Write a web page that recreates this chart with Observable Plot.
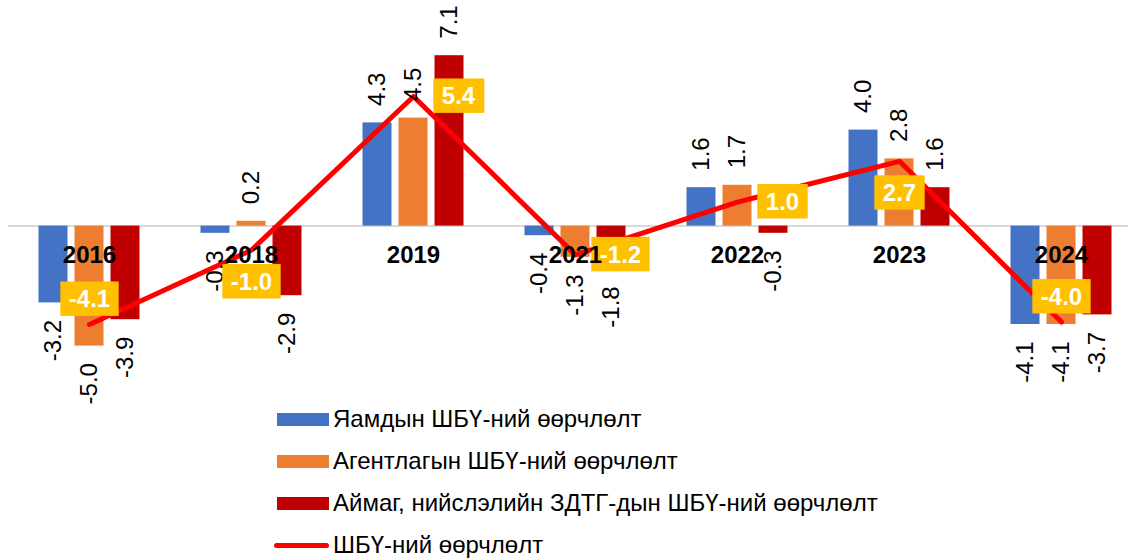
<!DOCTYPE html>
<html><head><meta charset="utf-8">
<script src="https://cdn.jsdelivr.net/npm/d3@7"></script>
<script src="https://cdn.jsdelivr.net/npm/@observablehq/plot@0.6"></script>
<style>
body{margin:0;background:#fff;font-family:"Liberation Sans",Arial,sans-serif;}
#chart svg{display:block;overflow:visible}
.legend{padding-left:277px;padding-top:2px}
.row{display:flex;align-items:center;height:42px;font-size:24px;color:#000;white-space:nowrap}
.sw{width:52px;height:13px;margin-right:4px;flex:none}
.ln{width:55px;height:5px;border-radius:3px;margin-left:-3px;margin-right:4px;flex:none}
</style></head><body><div id="chart"></div><div class="legend" id="legend"></div>
<script>
const years = ["2016","2018","2019","2021","2022","2023","2024"];
const ministry = [-3.2, -0.3, 4.3, -0.4, 1.6, 4.0, -4.1];
const agency = [-5.0, 0.2, 4.5, -1.3, 1.7, 2.8, -4.1];
const aimag = [-3.9, -2.9, 7.1, -1.8, -0.3, 1.6, -3.7];
const total = [-4.1, -1.0, 5.4, -1.2, 1.0, 2.7, -4.0];
const seriesNames = ["Яамдын ШБҮ-ний өөрчлөлт", "Агентлагын ШБҮ-ний өөрчлөлт", "Аймаг, нийслэлийн ЗДТГ-дын ШБҮ-ний өөрчлөлт"];
const lineName = "ШБҮ-ний өөрчлөлт";
const totalLabelPos = ["above","below","right","right","right","below","above"];

const seriesColors = ["#4472C4", "#ED7D31", "#C00000"];
const lineColor = "#FF0000";
const boxColor = "#FFC000";

const W = 1128, H = 396;
const xRange = [8, 1142];
const bw = (xRange[1] - xRange[0]) / years.length;
const offsets = [-36, 0, 36];
const barW = 29;
const fmt = v => v.toFixed(1);
const font = "Liberation Sans, Arial, sans-serif";
const fs = 24;

const seriesValues = [ministry, agency, aimag];
const rows = [];
seriesValues.forEach((vals, k) => vals.forEach((v, i) => rows.push({year: years[i], series: k, value: v})));
const totals = years.map((y, i) => ({year: y, value: total[i], pos: totalLabelPos[i]}));

const marks = [Plot.ruleY([0], {stroke: "#D9D9D9", strokeWidth: 2})];
seriesValues.forEach((vals, k) => {
  const data = rows.filter(r => r.series === k);
  marks.push(Plot.barY(data, {x: "year", y: "value", fill: seriesColors[k],
    insetLeft: bw / 2 + offsets[k] - barW / 2, insetRight: bw / 2 - offsets[k] - barW / 2}));
});
marks.push(Plot.line(totals, {x: "year", y: "value", stroke: lineColor, strokeWidth: 5, strokeLinecap: "round", strokeLinejoin: "round"}));
seriesValues.forEach((vals, k) => {
  const data = rows.filter(r => r.series === k);
  marks.push(Plot.text(data.filter(r => r.value >= 0), {x: "year", y: "value", text: r => fmt(r.value), rotate: -90, textAnchor: "start", dx: offsets[k], dy: -17, fontSize: fs, fill: "#000"}));
  marks.push(Plot.text(data.filter(r => r.value < 0), {x: "year", y: "value", text: r => fmt(r.value), rotate: -90, textAnchor: "end", dx: offsets[k], dy: 17, fontSize: fs, fill: "#000"}));
});
const posOffset = {above: [0, -25], below: [0, 32], right: [45, 0]};
Object.entries(posOffset).forEach(([p, [dx, dy]]) => {
  marks.push(Plot.text(totals.filter(t => t.pos === p), {x: "year", y: "value", text: t => fmt(t.value), dx, dy, fill: "#fff", fontWeight: "bold", fontSize: fs, className: "boxlab"}));
});
marks.push(Plot.text(years, {x: d => d, y: () => 0, text: d => d, dy: 29, fontWeight: "bold", fontSize: fs, fill: "#000"}));

const svg = Plot.plot({
  width: W, height: H,
  marginLeft: 8, marginRight: 0, marginTop: 0, marginBottom: 0,
  style: {fontFamily: font, background: "#fff", overflow: "visible"},
  x: {type: "band", domain: years, range: xRange, padding: 0, axis: null},
  y: {domain: [-7.1, 9.4], axis: null},
  marks
});
document.getElementById("chart").appendChild(svg);

const ns = "http://www.w3.org/2000/svg";
svg.querySelectorAll(".boxlab text").forEach(t => {
  const b = t.getBBox();
  const r = document.createElementNS(ns, "rect");
  r.setAttribute("x", b.x - 8.5);
  r.setAttribute("y", b.y - 3.7);
  r.setAttribute("width", b.width + 17);
  r.setAttribute("height", b.height + 7.4);
  r.setAttribute("fill", boxColor);
  if (t.getAttribute("transform")) r.setAttribute("transform", t.getAttribute("transform"));
  t.parentNode.insertBefore(r, t);
});

const legend = document.getElementById("legend");
seriesNames.forEach((n, k) => {
  const row = document.createElement("div"); row.className = "row";
  const sw = document.createElement("span"); sw.className = "sw"; sw.style.background = seriesColors[k];
  const tx = document.createElement("span"); tx.textContent = n;
  row.append(sw, tx); legend.appendChild(row);
});
{
  const row = document.createElement("div"); row.className = "row";
  const sw = document.createElement("span"); sw.className = "ln"; sw.style.background = lineColor;
  const tx = document.createElement("span"); tx.textContent = lineName;
  row.append(sw, tx); legend.appendChild(row);
}
</script></body></html>
